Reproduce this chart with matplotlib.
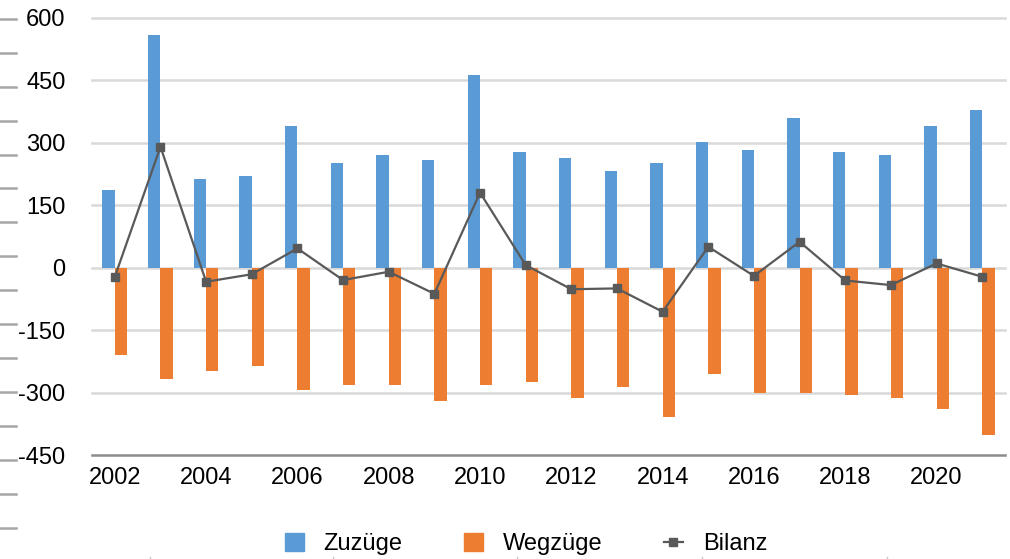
import numpy as np
import matplotlib
matplotlib.use('Agg')
import matplotlib.pyplot as plt
from matplotlib.lines import Line2D
from matplotlib.patches import Patch

plt.rcParams['font.family'] = ['Liberation Sans', 'DejaVu Sans']

# data
years = list(range(2002, 2022))
zuzuege = [187, 558, 213, 220, 340, 251, 270, 258, 462, 278,
           263, 232, 251, 302, 282, 359, 278, 270, 340, 378]
wegzuege = [-209, -267, -248, -236, -293, -281, -281, -320, -281, -274,
            -313, -286, -358, -255, -301, -301, -306, -313, -339, -401]
bilanz = [-22, 290, -34, -16, 46, -30, -10, -63, 180, 6,
          -52, -50, -106, 50, -20, 62, -31, -42, 10, -22]
y_ticks = [-450, -300, -150, 0, 150, 300, 450, 600]

blue = '#5B9BD5'
orange = '#ED7D31'
grey_line = '#595959'
W, H = 1010, 559

fig = plt.figure(figsize=(W / 100, H / 100), dpi=100)
ax = fig.add_axes([92 / W, 1 - 455 / H, (1005 - 92) / W, (455 - 17.7) / H])

x = np.arange(len(years))
bw = 0.27
ax.bar(x - bw / 2, zuzuege, width=bw, color=blue, zorder=2)
ax.bar(x + bw / 2, wegzuege, width=bw, color=orange, zorder=2)
ax.plot(x, bilanz, color=grey_line, lw=1.6, marker='s', ms=5.5, zorder=3)

for v in y_ticks[1:]:
    ax.axhline(v, color='#D9D9D9', lw=1.8, zorder=1, clip_on=False)

ax.set_xlim(-0.5, len(years) - 0.5)
ax.set_ylim(-450, 600)
ax.set_yticks(y_ticks)
ax.set_yticklabels([str(v) for v in y_ticks])
ax.set_xticks(x[::2])
ax.set_xticklabels([str(y) for y in years[::2]])
ax.tick_params(axis='both', length=0, labelsize=17)
ax.tick_params(axis='y', pad=19)
ax.tick_params(axis='x', pad=9)

for s in ['top', 'right', 'left']:
    ax.spines[s].set_visible(False)
ax.spines['bottom'].set_color('#8C8C8C')
ax.spines['bottom'].set_linewidth(1.8)

# stray tick marks along the left and bottom edges
for k in range(16):
    yy = 1 - (19 + 33.9 * k) / H
    fig.add_artist(Line2D([0, 16 / W], [yy, yy], color='#A6A6A6', lw=1.8))
for xx in [150, 333, 517, 702, 887]:
    fig.add_artist(Line2D([xx / W, xx / W], [0, 2.5 / H], color='#C8C8C8', lw=1.0))

handles = [Patch(color=blue), Patch(color=orange),
           Line2D([], [], color=grey_line, lw=1.6, marker='s', ms=5.5)]
fig.legend(handles, ['Zuzüge', 'Wegzüge', 'Bilanz'], loc='center',
           bbox_to_anchor=(526 / W, 1 - 544 / H), ncol=3, frameon=False,
           fontsize=17, handlelength=0.8, handleheight=0.8,
           handletextpad=0.85, columnspacing=2.6)

fig.savefig('out.png', dpi=100)
